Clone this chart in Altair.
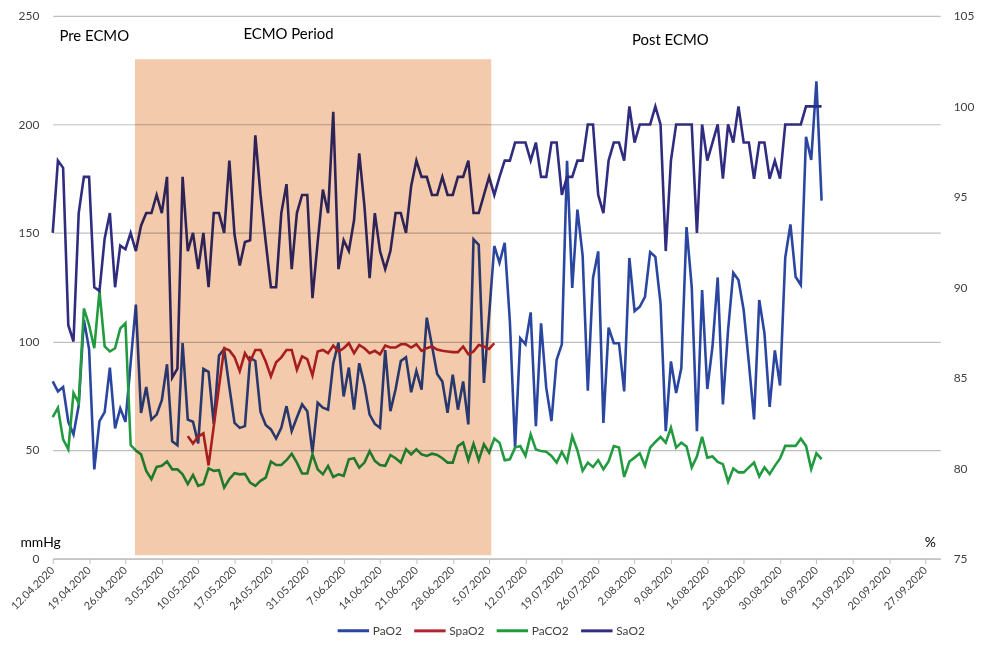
import altair as alt
import pandas as pd

start = pd.Timestamp("2020-04-12")

series_names = ["PaO2", "SpaO2", "PaCO2", "SaO2"]
series_colors = ["#2A46A0", "#B0262E", "#229A3F", "#302C80"]

# daily values from 12.04.2020 (day 0) to 7.09.2020 (day 148)
pao2 = [
    81.6, 77, 79, 63, 57.2, 70.5, 110, 96.5, 41.1, 63.3,
    67.5, 88, 60, 69.2, 63, 90, 117, 67.1, 79, 64,
    66.3, 73, 89.5, 54, 52.2, 99.3, 64, 63, 53, 87.4,
    86, 62, 93.5, 96.5, 79, 62.5, 60.2, 61, 92.5, 91,
    67.5, 61.5, 59.5, 55.3, 60.2, 70.2, 58.7, 65, 71, 67.9,
    48.8, 71.8, 69.5, 68.6, 90, 99.5, 74.7, 88, 68.6, 90,
    80, 66.3, 62, 60.2, 96, 67.9, 78, 91, 92.7, 76.6,
    86.5, 77.8, 111, 98, 85, 81.6, 67.1, 84.7, 68.6, 81.6,
    61.8, 147, 144.5, 80.9, 112, 144, 136.3, 145.5, 109.1, 51.1,
    101.5, 98.7, 113.4, 61, 108.4, 78.6, 63.3, 91.6, 98.7, 183.2,
    124.7, 160.8, 139.7, 77.3, 129.3, 141.5, 62.5, 106.4, 99.2, 99.2,
    77, 138.5, 114, 116, 120.6, 141.2, 139, 117.6, 58.7, 90.8,
    76.3, 87.8, 152.7, 125.2, 58.7, 123.7, 78.1, 97.7, 129.5, 71,
    105.3, 131.6, 128.3, 114.5, 90.1, 64.1, 119.1, 103.8, 69.9, 95.9,
    79.7, 138.6, 153.9, 129.8, 126, 194.3, 183.6, 219.9, 164.9,
]

paco2 = [
    65.1, 69.4, 54.9, 50.3, 76.3, 71.7, 115.2, 107.6, 96.9, 123.2,
    97.7, 95.4, 96.9, 106, 108.4, 52.3, 49.8, 48, 40.4, 36.6,
    42.2, 42.7, 44.7, 41.1, 41.1, 38.8, 34.3, 38.5, 33.5, 34.3,
    41.6, 40.4, 40.7, 32.7, 36.6, 39.3, 38.8, 39, 35, 33.5,
    35.8, 37.3, 44.7, 43.1, 43.1, 45.3, 48.3, 44.2, 39.2, 39.2,
    48, 41.1, 38.8, 42.7, 37.6, 38.8, 38.1, 45.7, 46.2, 41.9,
    44.2, 49.5, 45, 43.1, 42.7, 47.7, 46.2, 44.2, 50.3, 48,
    50.3, 48, 47.3, 48.3, 47.7, 46.2, 44.2, 44.2, 51.8, 53.4,
    45.3, 52.9, 45.3, 52.6, 48.8, 55.3, 53.4, 45.3, 45.7, 51.1,
    51.8, 47.3, 57.2, 50.3, 49.5, 49.2, 47.3, 44.2, 49.2, 44.7,
    56.4, 49.8, 40.4, 44.2, 42.2, 45.3, 41.1, 44.7, 51.8, 51.1,
    37.6, 44.7, 46.5, 48.5, 42.7, 51.1, 53.7, 56.1, 53.4, 60.3,
    51.1, 53.4, 51.6, 42, 47, 56.1, 46.5, 47, 44.5, 43.5,
    35.4, 41.5, 39.7, 39.7, 42, 44.2, 37.8, 42, 38.9, 42.7,
    46.1, 51.9, 51.9, 51.9, 55.2, 51.9, 41.2, 48.5, 45.8,
]

sao2 = [
    93.0, 97.0, 96.6, 87.9, 87.0, 94.1, 96.1, 96.1, 90.0, 89.8,
    92.7, 94.1, 90.0, 92.3, 92.1, 93.0, 92.0, 93.4, 94.1, 94.1,
    95.1, 94.1, 96.1, 85.0, 85.5, 96.1, 92.0, 93.0, 91.0, 93.0,
    90.0, 94.1, 94.1, 93.0, 97.0, 92.9, 91.2, 92.5, 92.6, 98.4,
    95.1, 92.5, 90.0, 90.0, 94.1, 95.7, 91.0, 94.1, 95.1, 95.1,
    89.4, 92.5, 95.4, 94.1, 99.7, 91.0, 92.6, 92.0, 93.7, 97.4,
    94.5, 90.5, 94.1, 92.0, 91.0, 92.0, 94.1, 94.1, 93.0, 95.6,
    97.0, 96.1, 96.1, 95.1, 95.1, 96.1, 95.1, 95.1, 96.1, 96.1,
    97.0, 94.1, 94.1, 95.1, 96.1, 95.1, 96.1, 97.0, 97.0, 98.0,
    98.0, 98.0, 97.0, 98.0, 96.1, 96.1, 98.0, 98.0, 95.1, 96.1,
    96.1, 97.0, 97.0, 99.0, 99.0, 95.1, 94.1, 97.0, 98.0, 98.0,
    97.0, 100.0, 98.0, 99.0, 99.0, 99.0, 100.0, 99.0, 92.0, 97.0,
    99.0, 99.0, 99.0, 99.0, 93.0, 99.0, 97.0, 98.0, 99.0, 96.0,
    99.0, 98.0, 100.0, 98.0, 98.0, 96.0, 98.0, 98.0, 96.0, 97.0,
    96.0, 99.0, 99.0, 99.0, 99.0, 100.0, 100.0, 100.0, 100.0,
]

# SpaO2 from 8.05.2020 (day 26) to 6.07.2020 (day 85)
spao2_start_day = 26
spao2 = [
    56.4, 53, 56.2, 57.7, 42.9, 61, 79, 96.9, 95.9, 92.8,
    86.3, 94.6, 90.8, 96.1, 96.1, 90.8, 83.9, 90.4, 92.7, 96.1,
    96.1, 87, 93.2, 91.9, 84.3, 95.4, 96.1, 94.6, 98.1, 95.4,
    96.9, 99.2, 94.6, 98.4, 96.9, 94.6, 95.7, 94.1, 98.1, 97.2,
    97.2, 98.7, 98.7, 97.2, 98.7, 95.7, 96.9, 97.7, 96.3, 95.7,
    95.4, 95.1, 95.1, 97.7, 94.1, 95.4, 98.4, 97.7, 96.6, 99.2,
]

# ECMO period shading and phase labels
ecmo_start = "2020-04-27T20:00:00"
ecmo_end = "2020-07-05T10:00:00"
ecmo_low, ecmo_high = 1.5, 230
phase_labels = ["Pre ECMO", "ECMO Period", "Post ECMO"]
phase_dates = ["2020-04-13T07:00:00", "2020-05-18T17:00:00", "2020-08-01T12:00:00"]
phase_values = [240.5, 241.5, 239]

left_ticks = [0, 50, 100, 150, 200, 250]
right_ticks = [75, 80, 85, 90, 95, 100, 105]
week_ticks = pd.date_range("2020-04-12", "2020-09-27", freq="7D")


def frame(name, values, offset=0):
    return pd.DataFrame({
        "date": [start + pd.Timedelta(days=offset + i) for i in range(len(values))],
        "value": values,
        "series": name,
    })


left_df = pd.concat([
    frame("PaO2", pao2),
    frame("SpaO2", spao2, spao2_start_day),
    frame("PaCO2", paco2),
], ignore_index=True)
right_df = frame("SaO2", sao2)
shade_df = pd.DataFrame({"x1": [ecmo_start], "x2": [ecmo_end],
                         "y1": [ecmo_low], "y2": [ecmo_high]})
label_df = pd.DataFrame({"date": phase_dates, "value": phase_values, "label": phase_labels})

FONT = "Lato"
TXT = "#404040"

x_scale = alt.Scale(domain=[alt.DateTime(year=2020, month=4, date=12),
                            alt.DateTime(year=2020, month=9, date=29, hours=20)])
x_axis = alt.Axis(
    values=[alt.DateTime(year=t.year, month=t.month, date=t.day) for t in week_ticks],
    format="%-d.%m.%Y", labelAngle=-45, labelAlign="right", labelBaseline="middle",
    labelFontSize=11, labelFont=FONT, labelColor=TXT, labelPadding=5,
    labelOverlap=False, labelBound=False, labelFlush=False,
    domainColor="#BFBFBF", domainWidth=1.2, tickColor="#BFBFBF", tickSize=5,
    grid=False, title=None,
)
x_enc = alt.X("date:T", scale=x_scale, axis=x_axis)

color = alt.Color(
    "series:N",
    scale=alt.Scale(domain=series_names, range=series_colors),
    legend=alt.Legend(
        orient="none", legendX=285, legendY=601, direction="horizontal", title=None,
        symbolType="stroke", symbolSize=1000, symbolStrokeWidth=3,
        labelFontSize=12, labelFont=FONT, labelColor=TXT, labelOffset=2,
        columnPadding=5,
    ),
)

left_y = alt.Y(
    "value:Q",
    scale=alt.Scale(domain=[0, 250], nice=False, zero=False),
    axis=alt.Axis(
        orient="left", values=left_ticks, grid=True, gridColor="#BFBFBF", gridWidth=1.2,
        domain=False, ticks=False, labelFontSize=12, labelFont=FONT, labelColor=TXT,
        labelPadding=14, title="mmHg", titleAngle=0, titleAlign="left",
        titleBaseline="middle", titleX=-33, titleY=530, titleFontSize=14,
        titleFontWeight="normal", titleFont=FONT, titleColor="#000000",
    ),
)

right_y = alt.Y(
    "value:Q",
    scale=alt.Scale(domain=[75, 105], nice=False, zero=False),
    axis=alt.Axis(
        orient="right", values=right_ticks, grid=False, domain=False, ticks=False,
        labelFontSize=12, labelFont=FONT, labelColor=TXT, labelPadding=13,
        title="%", titleAngle=0, titleAlign="left", titleBaseline="middle",
        titleX=-16, titleY=530, titleFontSize=14, titleFontWeight="normal",
        titleFont=FONT, titleColor="#000000",
    ),
)

left_lines = alt.Chart(left_df).mark_line(strokeWidth=2.6, strokeJoin="miter").encode(
    x=x_enc, y=left_y, color=color
)

right_line = alt.Chart(right_df).mark_line(strokeWidth=2.6, strokeJoin="miter").encode(
    x=x_enc, y=right_y, color=color
)

top_scale = alt.Scale(domain=[0, 250], nice=False, zero=False)
shade = alt.Chart(shade_df).mark_rect(color="#F3CAAC", blend="multiply").encode(
    x=alt.X("x1:T", scale=x_scale, axis=x_axis),
    x2="x2:T",
    y=alt.Y("y1:Q", scale=top_scale, axis=None),
    y2="y2:Q",
)
labels = alt.Chart(label_df).mark_text(
    align="left", baseline="middle", fontSize=15, font=FONT, color="#000000"
).encode(
    x=alt.X("date:T", scale=x_scale, axis=x_axis),
    y=alt.Y("value:Q", scale=top_scale, axis=None),
    text="label:N",
)

chart = alt.layer(left_lines, right_line, alt.layer(shade, labels)).resolve_scale(
    y="independent"
).properties(
    width=893, height=546, autosize="none",
    padding={"left": 45, "top": 6, "right": 36, "bottom": 80},
    background="white",
).configure_view(stroke=None)

chart.save("out.html", embed_options={"renderer": "svg", "actions": False})
